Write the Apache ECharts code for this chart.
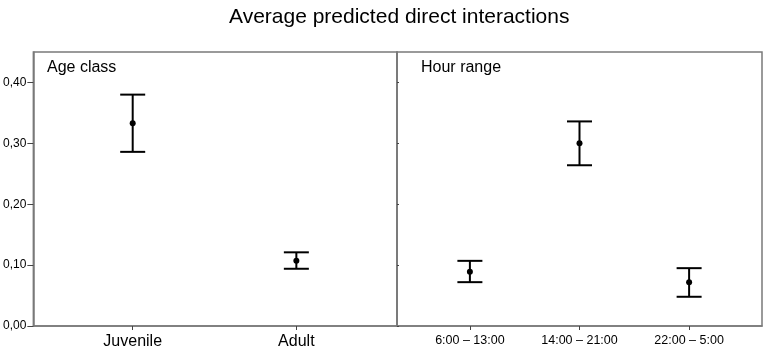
<!DOCTYPE html>
<html><head><meta charset="utf-8">
<script src="https://cdn.jsdelivr.net/npm/echarts@6/dist/echarts.min.js"></script>
<style>html,body{margin:0;padding:0;background:#fff}#c{width:765px;height:353px}</style>
</head><body><div id="c"></div>
<script>
const ageCategories = ['Juvenile', 'Adult'];
const ageMean = [0.333, 0.107];
const ageLow = [0.286, 0.094];
const ageHigh = [0.380, 0.121];

const hourCategories = ['6:00 \u2013 13:00', '14:00 \u2013 21:00', '22:00 \u2013 5:00'];
const hourMean = [0.089, 0.300, 0.072];
const hourLow = [0.072, 0.264, 0.048];
const hourHigh = [0.107, 0.336, 0.095];

const yTicks = [0, 0.1, 0.2, 0.3, 0.4];

function rows(means, lows, highs) {
  return means.map((m, i) => [i + 1, m, lows[i], highs[i]]);
}

function renderErr(params, api) {
  const x = api.value(0);
  const top = api.coord([x, api.value(3)]);
  const bot = api.coord([x, api.value(2)]);
  const mid = api.coord([x, api.value(1)]);
  const hw = 12.5;
  const st = { stroke: '#000', lineWidth: 2 };
  return {
    type: 'group',
    children: [
      { type: 'line', shape: { x1: top[0], y1: top[1], x2: bot[0], y2: bot[1] }, style: st },
      { type: 'line', shape: { x1: top[0] - hw, y1: top[1], x2: top[0] + hw, y2: top[1] }, style: st },
      { type: 'line', shape: { x1: bot[0] - hw, y1: bot[1], x2: bot[0] + hw, y2: bot[1] }, style: st },
      { type: 'circle', shape: { cx: mid[0], cy: mid[1], r: 3 }, style: { fill: '#000' } }
    ]
  };
}

const font = 'Liberation Sans, Arial, sans-serif';
const gridBase = { top: 52, width: 365, height: 274, show: true, borderColor: '#7a7a7a', borderWidth: 1.5, backgroundColor: 'transparent' };

function xAxis(idx, cats, min, max, fs) {
  const vals = cats.map((c, i) => i + 1);
  return {
    type: 'value', gridIndex: idx, min: min, max: max,
    splitLine: { show: false },
    axisLine: { show: true, lineStyle: { color: '#7a7a7a', width: 1.5 } },
    axisTick: { show: true, customValues: vals, length: 4, lineStyle: { color: '#444' } },
    axisLabel: { show: true, customValues: vals, color: '#000', fontSize: fs, fontFamily: font, margin: 8,
      formatter: v => cats[Math.round(v) - 1] || '' }
  };
}

function yAxis(idx, showLabels) {
  return {
    type: 'value', gridIndex: idx, min: 0, max: 0.45,
    splitLine: { show: false },
    axisLine: { show: true, lineStyle: { color: '#7a7a7a', width: 1.5 } },
    axisTick: { show: true, customValues: yTicks, length: showLabels ? 6 : 2, inside: !showLabels, lineStyle: { color: '#444' } },
    axisLabel: { show: showLabels, customValues: yTicks, color: '#000', fontSize: 12, fontFamily: font, margin: 7,
      formatter: v => v.toFixed(2).replace('.', ',') }
  };
}

const chart = echarts.init(document.getElementById('c'), null, { renderer: 'canvas' });
chart.setOption({
  animation: false,
  backgroundColor: '#fff',
  title: {
    text: 'Average predicted direct interactions',
    left: 224, top: 2,
    textStyle: { fontSize: 21, fontWeight: 'normal', color: '#000', fontFamily: font }
  },
  graphic: [
    { type: 'text', left: 47, top: 60, style: { text: 'Age class', fontSize: 16, fill: '#000', fontFamily: font } },
    { type: 'text', left: 421, top: 60, style: { text: 'Hour range', fontSize: 16, fill: '#000', fontFamily: font } }
  ],
  grid: [
    Object.assign({ left: 32 }, gridBase),
    Object.assign({ left: 397 }, gridBase)
  ],
  xAxis: [
    xAxis(0, ageCategories, 0.393, 2.615, 16),
    xAxis(1, hourCategories, 0.335, 3.665, 12.5)
  ],
  yAxis: [yAxis(0, true), yAxis(1, false)],
  series: [
    { type: 'custom', xAxisIndex: 0, yAxisIndex: 0, renderItem: renderErr, data: rows(ageMean, ageLow, ageHigh) },
    { type: 'custom', xAxisIndex: 1, yAxisIndex: 1, renderItem: renderErr, data: rows(hourMean, hourLow, hourHigh) }
  ]
});
</script></body></html>
